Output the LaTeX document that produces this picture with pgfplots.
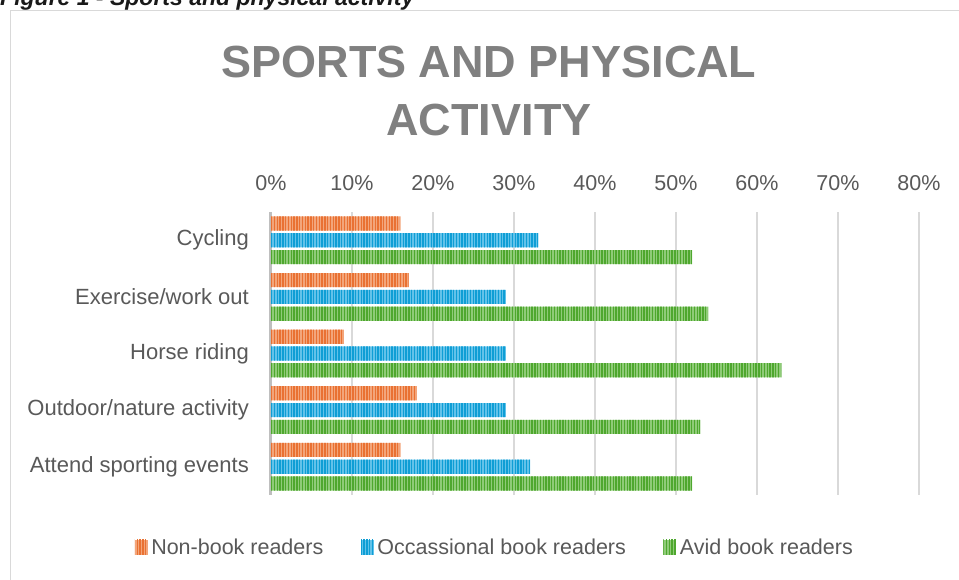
\documentclass[border=0pt]{standalone}
\usepackage{fontspec}
\setmainfont{Liberation Sans}
\usepackage{pgfplots}
\pgfplotsset{compat=1.18}
\usetikzlibrary{patterns.meta}
\definecolor{orD}{HTML}{E97132}
\definecolor{orL}{HTML}{F3A57A}
\definecolor{blD}{HTML}{0F9ED5}
\definecolor{blL}{HTML}{62C2EA}
\definecolor{grD}{HTML}{4EA72E}
\definecolor{grL}{HTML}{8FCB78}
\definecolor{txt}{HTML}{595959}
\definecolor{ttl}{HTML}{808080}
\definecolor{grd}{HTML}{D9D9D9}
\definecolor{axl}{HTML}{BFBFBF}
\newcommand{\tickfont}{\fontsize{21.5}{25}\selectfont}
\newcommand{\lblfont}{\fontsize{22}{26}\selectfont}
\begin{document}
\begin{tikzpicture}[x=1pt,y=1pt]
\useasboundingbox (0pt,0pt) rectangle (959pt,-579pt);
\clip (0pt,0pt) rectangle (959pt,-579pt);
\fill[white] (0pt,0pt) rectangle (959pt,-579pt);
\draw[grd, line width=1pt] (10.5pt,-10.5pt) rectangle (1000pt,-700pt);
\node[anchor=base west, inner sep=0pt, font=\fontsize{23}{27}\selectfont\bfseries\itshape, text=black!90] at (0pt,-5pt) {Figure 1 - Sports and physical activity};
\node[anchor=base, inner sep=0pt, font=\fontsize{45}{50}\selectfont\bfseries, text=ttl] at (489pt,-77pt) {SPORTS AND PHYSICAL};
\node[anchor=base, inner sep=0pt, font=\fontsize{45}{50}\selectfont\bfseries, text=ttl] at (489pt,-135pt) {ACTIVITY};
\begin{axis}[
  at={(271pt,-212pt)}, anchor=north west,
  scale only axis, width=648pt, height=283pt,
  xmin=0, xmax=80, ymin=-0.5, ymax=4.5,
  y dir=reverse,
  xbar, bar width=0.25,
  axis x line*=top, axis y line*=left,
  x axis line style={draw=none},
  y axis line style={axl, line width=3pt},
  xtick={0,10,...,80},
  xticklabel={\pgfmathprintnumber{\tick}\%},
  ytick={0,1,2,3,4},
  yticklabels={Cycling, Exercise/work out, Horse riding, Outdoor/nature activity, Attend sporting events},
  major tick length=0pt,
  tick style={draw=none},
  /pgf/number format/assume math mode=true,
  xmajorgrids, major grid style={grd, line width=1.5pt},
  xticklabel style={font=\tickfont, text=txt, anchor=base, yshift=22pt},
  yticklabel style={font=\lblfont, text=txt, anchor=east, inner sep=0pt, xshift=-22pt},
  legend style={at={(0.345,-0.184)}, anchor=center, draw=none, fill=none,
    legend columns=-1, font=\tickfont, text=txt,
    nodes={inner sep=1.5pt},
    /tikz/every odd column/.append style={column sep=2pt},
    /tikz/every even column/.append style={column sep=36pt}},
  legend image code/.code={\draw[#1, draw=none] (0pt,-7.5pt) rectangle (13pt,7.5pt);},
]
\addplot[draw=none, fill=orL, bar shift=-0.297, postaction={pattern={Lines[angle=90, distance=2.8pt, line width=1.4pt]}, pattern color=orD}]
  coordinates {(16,0) (17,1) (9,2) (18,3) (16,4)};
\addlegendentry{Non-book readers}
\addplot[draw=none, fill=blL, bar shift=0, postaction={pattern={Lines[angle=90, distance=2.8pt, line width=1.4pt]}, pattern color=blD}]
  coordinates {(33,0) (29,1) (29,2) (29,3) (32,4)};
\addlegendentry{Occassional book readers}
\addplot[draw=none, fill=grL, bar shift=0.297, postaction={pattern={Lines[angle=90, distance=2.8pt, line width=1.4pt]}, pattern color=grD}]
  coordinates {(52,0) (54,1) (63,2) (53,3) (52,4)};
\addlegendentry{Avid book readers}
\end{axis}
\end{tikzpicture}
\end{document}
